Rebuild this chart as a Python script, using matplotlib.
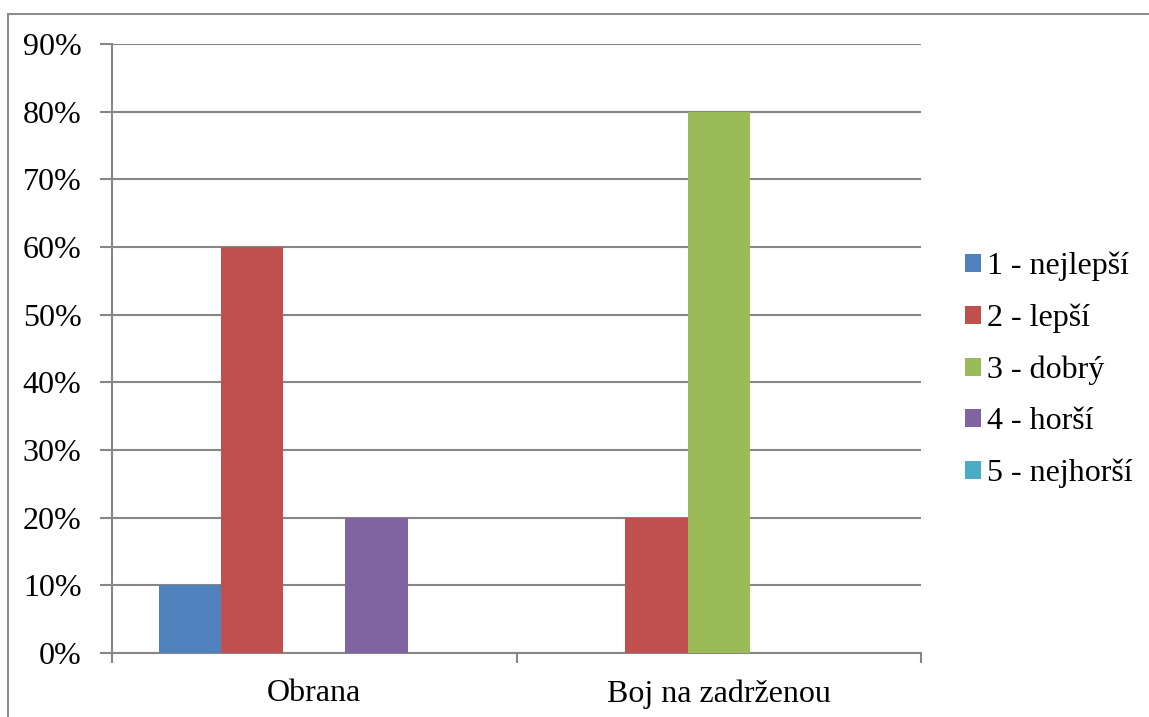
import numpy as np
import matplotlib.pyplot as plt
from matplotlib.patches import Rectangle
from matplotlib.ticker import PercentFormatter

# Data
categories = ["Obrana", "Boj na zadrženou"]
series_names = ["1 - nejlepší", "2 - lepší", "3 - dobrý", "4 - horší", "5 - nejhorší"]
values = [
    [10, 0],   # 1 - nejlepší
    [60, 20],  # 2 - lepší
    [0, 80],   # 3 - dobrý
    [20, 0],   # 4 - horší
    [0, 0],    # 5 - nejhorší
]
colors = ["#4F81BD", "#C0504D", "#9BBB59", "#8064A2", "#4BACC6"]

plt.rcParams['font.family'] = ['Liberation Serif', 'DejaVu Serif']
FS = 23

fig = plt.figure(figsize=(11.49, 7.17), dpi=100)
ax = fig.add_axes([112 / 1149, 1 - 653 / 717, (921 - 112) / 1149, (653 - 44) / 717])

# outer chart border (cut by the image edge on the right and bottom)
fig.patches.append(Rectangle((8 / 1149, -0.1), 1.2, 0.1 + (717 - 14) / 717,
                             transform=fig.transFigure, fill=False,
                             edgecolor="#8C8C8C", linewidth=1.5))

x = np.arange(len(categories))
w = 1 / 6.5  # Excel gap width 150%
for i, (name, vals) in enumerate(zip(series_names, values)):
    ax.bar(x + (i - 2) * w, vals, width=w, color=colors[i], label=name, zorder=3)

ax.set_xlim(-0.5, 1.5)
ax.set_ylim(0, 90)
ax.set_yticks(np.arange(0, 91, 10))
ax.yaxis.set_major_formatter(PercentFormatter(decimals=0))
ax.yaxis.grid(True, color="#868686", linewidth=1.5, zorder=0)

ax.set_xticks([-0.5, 0.5, 1.5])
ax.set_xticklabels([])
ax.set_xticks(x, minor=True)
ax.set_xticklabels(categories, minor=True)
ax.tick_params(axis="x", which="minor", length=0, pad=19, labelsize=FS)
ax.tick_params(axis="x", which="major", length=7, width=1.5, color="#868686")
ax.tick_params(axis="y", length=9, width=1.5, color="#868686", labelsize=FS, pad=13)

for s in ["top", "right"]:
    ax.spines[s].set_visible(False)
for s in ["left", "bottom"]:
    ax.spines[s].set_color("#868686")
    ax.spines[s].set_linewidth(1.5)

fig.legend(loc="center left", bbox_to_anchor=(965 / 1149, 1 - 370 / 717),
           bbox_transform=fig.transFigure, frameon=False,
           fontsize=FS, handlelength=0.5, handleheight=0.5, handletextpad=0.2,
           labelspacing=0.7, borderpad=0, borderaxespad=0)

fig.savefig("out.png", dpi=100)
